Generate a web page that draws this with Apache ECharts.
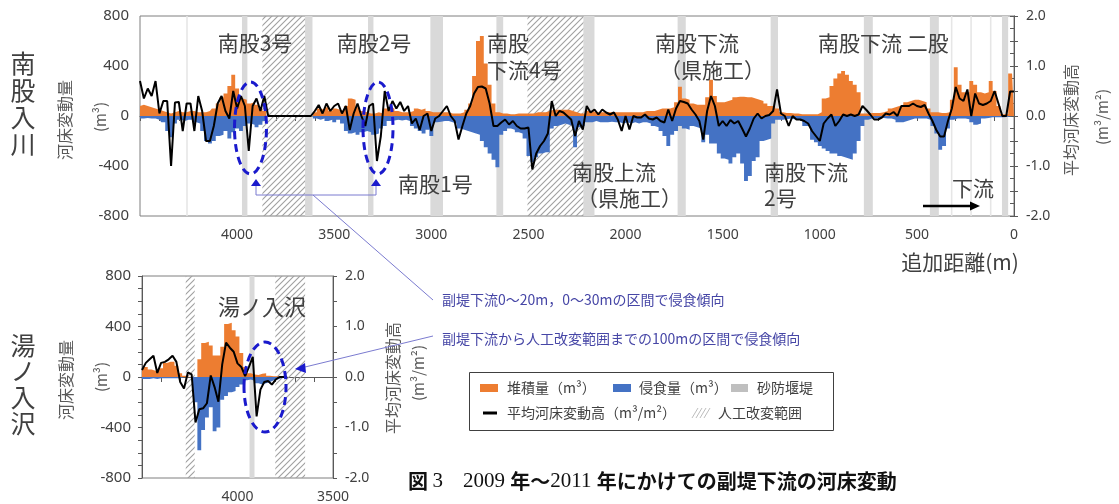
<!DOCTYPE html>
<html><head><meta charset="utf-8">
<script src="https://cdn.jsdelivr.net/npm/echarts@6.0.0/dist/echarts.min.js"></script>
<style>html,body{margin:0;padding:0;background:#fff}#c{width:1119px;height:504px}</style>
</head><body><div id="c"></div>
<script>
// ---------------- DATA ----------------
// 南股入川: sampled every 20 m from 4500 m (left) down to 0 m (right)
const topStartM = 4500, topStepM = 20;
const topDeposit = [
 80,90,80,70,60,50,40,30,20,30,
 40,30,30,40,40,30,30,30,40,60,
 100,150,180,240,330,220,140,130,100,110,
 90,60,40,0,0,0,0,0,0,0,
 0,0,0,0,0,30,60,50,70,40,
 60,50,40,80,140,130,70,40,30,20,
 20,30,20,60,70,60,40,30,30,30,
 40,60,50,60,40,30,30,30,30,30,
 20,20,20,30,50,100,320,600,640,420,
 250,100,30,20,20,15,15,20,20,20,
 20,20,30,30,30,40,50,50,50,50,
 50,40,30,20,20,40,40,30,30,30,
 30,30,30,30,30,30,30,30,30,30,
 40,40,40,50,60,60,60,70,110,235,
 140,130,100,90,90,90,150,290,160,110,
 110,120,130,150,155,155,150,150,140,130,
 120,100,80,80,60,30,25,25,20,20,
 15,15,15,15,15,30,140,150,240,300,
 340,360,330,280,250,190,20,20,25,25,
 25,30,40,60,70,80,90,110,120,130,
 130,120,110,60,30,30,25,25,30,130,
 390,250,190,190,280,250,190,180,190,280,
 200,80,15,15,340,330];
const topErosion = [
 -20,-20,-15,-20,-20,-30,-50,-120,-170,-60,
 -30,-40,-30,-30,-50,-60,-120,-200,-220,-200,
 -160,-150,-120,-180,-130,-100,-120,-80,-60,-70,
 -90,-70,-40,0,0,0,0,0,0,0,
 0,0,0,0,0,-20,-30,-20,-40,-30,
 -50,-30,-60,-120,-140,-130,-150,-130,-120,-130,
 -150,-140,-100,-80,-40,-35,-30,-35,-30,-40,
 -80,-100,-120,-140,-110,-160,-50,-45,-40,-40,
 -50,-60,-100,-110,-120,-130,-140,-150,-200,-250,
 -300,-350,-410,-150,-120,-100,-110,-130,-140,-180,
 -320,-370,-330,-300,-290,-290,-100,-80,-70,-60,
 -70,-80,-250,-90,-80,-50,-50,-40,-50,-50,
 -50,-45,-50,-50,-60,-50,-60,-50,-60,-50,
 -50,-60,-80,-90,-120,-160,-240,-150,-120,-80,
 -100,-110,-80,-90,-100,-210,-150,-220,-220,-300,
 -340,-350,-380,-330,-300,-380,-520,-480,-360,-330,
 -200,-190,-180,-60,-30,-30,-25,-20,-25,-25,
 -40,-80,-80,-190,-210,-240,-260,-280,-300,-300,
 -320,-330,-340,-350,-300,-200,-80,-30,-20,-20,
 -15,-15,-20,-20,-30,-50,-50,-40,-30,-20,
 -20,-20,-20,-30,-80,-140,-270,-240,-100,-30,
 -20,-20,-20,-25,-50,-70,-60,-20,-15,-10,
 -10,-10,-10,-5,-5,0];
const topMean = [
 0.70,0.35,0.55,0.40,0.70,0.05,0.30,0.30,-1.00,0.27,
 0.28,-0.30,0.25,0.25,-0.30,0.40,0.10,-0.50,-0.50,-0.20,
 0.25,0.40,0.10,-0.05,0.50,0.15,0.40,0.20,-0.70,0.20,
 0.35,0.10,0.40,0,0,0,0,0,0,0,
 0,0,0,0,0,0.10,0.22,0.05,0.25,0.10,
 0.20,0.25,0.05,0.20,-0.28,0.05,0.25,0.00,-0.20,0.20,
 0.25,-0.90,-0.40,0.50,0.10,0.30,0.15,0.28,0.10,0.20,
 -0.15,-0.05,-0.28,0.00,0.05,-0.30,-0.05,0.00,0.10,0.20,
 0.00,-0.10,-0.47,-0.20,0.05,0.20,0.45,0.58,0.59,0.55,
 0.25,-0.20,-0.20,-0.13,-0.07,-0.17,-0.10,-0.20,-0.25,-0.25,
 -0.23,-1.07,-0.75,-0.60,-0.50,-0.35,0.30,0.00,0.10,0.07,
 0.00,-0.07,-0.40,-0.10,-0.27,0.20,0.07,0.13,0.03,0.13,
 0.07,0.03,0.07,-0.07,-0.30,0.00,-0.27,0.00,-0.03,-0.03,
 0.03,-0.05,-0.07,-0.03,-0.10,-0.13,0.13,-0.10,0.15,0.30,
 0.28,0.25,0.13,0.03,-0.10,-0.47,0.10,0.40,0.20,-0.20,
 -0.10,-0.20,-0.08,-0.15,-0.10,-0.25,-0.41,-0.25,-0.05,0.05,
 -0.05,0.00,0.02,0.10,0.53,0.05,0.00,-0.20,0.00,-0.07,
 -0.07,-0.10,-0.15,-0.30,-0.40,-0.50,-0.15,-0.05,0.03,-0.20,
 -0.10,0.03,0.00,0.03,0.00,0.03,0.20,0.12,0.03,-0.07,
 -0.07,-0.03,0.05,0.03,0.08,0.00,0.20,0.20,0.20,0.25,
 0.20,0.18,0.22,0.05,-0.10,-0.28,-0.41,-0.41,-0.10,0.15,
 0.58,0.35,0.30,0.53,0.00,0.45,0.25,0.22,0.25,0.30,
 0.50,0.25,0.00,0.00,0.49,0.49];

// 湯ノ入沢: every 20 m from 4500 m down to 3740 m
const botStartM = 4500, botStepM = 20;
const botDeposit = [
 50,80,60,50,50,70,110,120,120,90,
 30,10,0,0,0,140,270,280,250,170,
 170,240,420,430,370,320,190,80,30,20,
 15,25,30,10,5,5,0,0,0];
const botErosion = [
 -15,-15,-15,-10,-15,-10,-10,-10,-10,-10,
 -10,0,0,0,-200,-580,-420,-320,-240,-430,
 -400,-180,-150,-120,-110,-80,-60,-25,-20,-30,
 -50,-60,-50,-40,-25,-20,-10,0,0];
const botMean = [
 0.14,0.28,0.35,0.42,0.08,0.28,0.30,0.35,0.42,0.30,
 -0.10,-0.23,0.09,0.05,-0.90,-0.64,-0.62,-0.52,0.03,-0.20,
 -0.49,0.25,0.68,0.58,0.50,0.27,0.20,0.02,0.20,0.40,
 -0.78,-0.25,-0.10,-0.08,-0.15,-0.05,0,0,0];

// Tick labels
const topXLabels = [4000,3500,3000,2500,2000,1500,1000,500,0];
const botXLabels = [4000,3500];
const leftLabels = [-800,-400,0,400,800];
const rightLabels = [-2,-1,0,1,2];

// 砂防堰堤 (dams) and 人工改変範囲 (artificial alteration) ranges, in m
const damsTop = [[3975,3947],[3650,3612],[3326,3298],[3005,2940],[2665,2630],[2217,2160],[1732,1690],[1253,1215],[773,727],[433,387],[62,30]];
const thinDamsTop = [[4262,4254],[325,317],[225,217],[124,116]];
const worksTop = [[3870,3650],[2505,2217]];
const damsBot = [[3937,3911]];
const worksBot = [[4271,4224],[3802,3646]];

// ---------------- CHART ----------------
const ORANGE = '#ED7D31', BLUE = '#4472C4', GRAY = '#d9d9d9';
const AX = '#595959', TXT = '#404040';
const JP = '"Noto Sans CJK JP", sans-serif';
const NUM = '"Noto Sans", sans-serif';

function pairs(start, step, arr){ return arr.map((v,i)=>[start - step*i, v]); }
function hatchCanvas(){
  const c = document.createElement('canvas'); c.width = 6; c.height = 6;
  const g = c.getContext('2d'); g.strokeStyle = '#a0a0a0'; g.lineWidth = 1.1;
  g.beginPath(); g.moveTo(0,6); g.lineTo(6,0); g.moveTo(-1,1); g.lineTo(1,-1); g.moveTo(5,7); g.lineTo(7,5); g.stroke();
  return c;
}
const HATCH = {image: hatchCanvas(), repeat: 'repeat'};

function bands(dams, thin, works){
  const out = [];
  dams.forEach(b=>out.push([{xAxis:b[0], itemStyle:{color:GRAY, opacity:1}},{xAxis:b[1]}]));
  thin.forEach(b=>out.push([{xAxis:b[0], itemStyle:{color:'#e6e6e6', opacity:1}},{xAxis:b[1]}]));
  works.forEach(b=>out.push([{xAxis:b[0], itemStyle:{color:HATCH, opacity:1}},{xAxis:b[1]}]));
  return out;
}
function areaS(xi, yi, data, color, mark){
  const s = {type:'line', xAxisIndex:xi, yAxisIndex:yi, data, step:'middle', symbol:'none', silent:true,
    lineStyle:{width:0}, areaStyle:{color, opacity:1}, z:3};
  if (mark) s.markArea = {silent:true, itemStyle:{opacity:1}, data: mark};
  return s;
}
function lineS(xi, yi, data){
  return {type:'line', xAxisIndex:xi, yAxisIndex:yi, data, symbol:'none', silent:true,
    lineStyle:{color:'#000', width:2}, z:4};
}
function xAxisDef(gi, min, max, labels){
  return {gridIndex:gi, type:'value', inverse:true, min, max, interval:100,
    axisLine:{show:true, lineStyle:{color:AX}}, axisTick:{show:true, length:5, lineStyle:{color:AX}},
    axisLabel:{margin:12, fontSize:14, color:TXT, fontFamily:NUM, formatter:v=>labels.includes(v)?String(v):''},
    splitLine:{show:false}};
}
function yLeft(gi){
  return {gridIndex:gi, type:'value', position:'left', min:-800, max:800, interval:100,
    axisLine:{show:true, lineStyle:{color:AX}}, axisTick:{show:true, length:4, lineStyle:{color:AX}},
    axisLabel:{margin:11, fontSize:15, color:TXT, fontFamily:NUM, formatter:v=>leftLabels.includes(v)?String(v):''},
    splitLine:{show:false}};
}
function yRight(gi){
  return {gridIndex:gi, type:'value', position:'right', min:-2, max:2, interval:0.5,
    axisLine:{show:true, lineStyle:{color:AX}}, axisTick:{show:true, length:4, lineStyle:{color:AX}},
    axisLabel:{margin:12, fontSize:14, color:TXT, fontFamily:NUM,
      formatter:v=>{const r=Math.round(v); return (Math.abs(v-r)<1e-6 && rightLabels.includes(r))? r.toFixed(1):'';}},
    splitLine:{show:false}};
}

// graphic helpers
function txt(x,y,t,size,opts){ opts=opts||{};
  return {type:'text', x, y, z:100, rotation:opts.rot||0,
    style:{text:t, fontSize:size, fontFamily:opts.ff||JP, fontWeight:opts.fw||'normal', fill:opts.fill||TXT,
      textAlign:opts.align||'center', align:opts.align||'center', textVerticalAlign:'middle', verticalAlign:'middle'}};
}
const VROT = Math.PI/2;
const EBLUE = '#1a1acc', LBLUE = '#7b7bd0', ATXT = '#4646a6';
function ell(cx,cy,rx,ry){ return {type:'ellipse', z:100, shape:{cx,cy,rx,ry}, style:{fill:null, stroke:EBLUE, lineWidth:3, lineDash:[8,5]}}; }
function poly(points, fill){ return {type:'polygon', z:100, shape:{points}, style:{fill}}; }
function pline(points, stroke, w){ return {type:'polyline', z:100, shape:{points}, style:{stroke, lineWidth:w, fill:null}}; }

const graphics = [
  // left titles
  ...['南','股','入','川'].map((c,i)=>txt(23, 63+i*27, c, 25)),
  ...['湯','ノ','入','沢'].map((c,i)=>txt(23, 345+i*26, c, 25)),
  // axis names
  txt(65,120,'河床変動量',16,{rot:VROT, fill:'#595959'}),
  txt(100,117,'(m³)',15,{rot:VROT, fill:'#595959'}),
  txt(1071,120,'平均河床変動高',16,{rot:VROT, fill:'#595959'}),
  txt(1102,117,'(m³/m²)',15,{rot:VROT, fill:'#595959'}),
  txt(66,380,'河床変動量',16,{rot:VROT, fill:'#595959'}),
  txt(101,377,'(m³)',15,{rot:VROT, fill:'#595959'}),
  txt(393,378,'平均河床変動高',16,{rot:VROT, fill:'#595959'}),
  txt(418,373,'(m³/m²)',15,{rot:VROT, fill:'#595959'}),
  txt(960,262,'追加距離(m)',21),
  // site labels
  txt(255,43,'南股3号',21),
  txt(374,43,'南股2号',21),
  txt(487,43,'南股',21,{align:'left'}),
  txt(487,70,'下流4号',21,{align:'left'}),
  txt(655,43,'南股下流',21,{align:'left'}),
  txt(660,70,'（県施工）',21,{align:'left'}),
  txt(818,43,'南股下流 二股',21,{align:'left'}),
  txt(398,184,'南股1号',21,{align:'left'}),
  txt(572,172,'南股上流',21,{align:'left'}),
  txt(577,198,'（県施工）',21,{align:'left'}),
  txt(764,172,'南股下流',21,{align:'left'}),
  txt(764,198,'2号',21,{align:'left'}),
  txt(952,188,'下流',21,{align:'left'}),
  txt(218,307,'湯ノ入沢',22,{align:'left'}),
  // 下流 arrow
  pline([[923,206],[972,206]],'#000',2.5),
  poly([[980,206],[970,201.5],[970,210.5]],'#000'),
  // ellipses
  ell(250.5,128,16,46), ell(378,128,15,46), ell(265,387,21,45),
  // triangles under ellipses
  poly([[256,179],[251,186],[261,186]],EBLUE),
  poly([[376,179],[371,186],[381,186]],EBLUE),
  // bracket and leader lines
  pline([[256,186],[256,195],[376,195],[376,186]],LBLUE,1),
  pline([[313,195],[433,300]],LBLUE,1),
  pline([[433,336],[305,367]],LBLUE,1),
  poly([[295,369],[305,363],[306,373]],EBLUE),
  // annotation texts
  txt(442,300,'副堤下流0～20m，0～30mの区間で侵食傾向',14,{align:'left', fill:ATXT}),
  txt(442,339,'副堤下流から人工改変範囲までの100mの区間で侵食傾向',14,{align:'left', fill:ATXT}),
  // legend
  {type:'rect', z:100, shape:{x:469.5,y:372.5,width:364,height:58}, style:{fill:'#fff', stroke:'#404040', lineWidth:1}},
  {type:'rect', z:101, shape:{x:480,y:384,width:18,height:8}, style:{fill:ORANGE}},
  txt(507,388,'堆積量（m³）',14,{align:'left'}),
  {type:'rect', z:101, shape:{x:613,y:384,width:18,height:8}, style:{fill:BLUE}},
  txt(639,388,'侵食量（m³）',14,{align:'left'}),
  {type:'rect', z:101, shape:{x:731,y:384,width:17,height:8}, style:{fill:'#bfbfbf'}},
  txt(757,388,'砂防堰堤',14,{align:'left'}),
  {type:'line', z:101, shape:{x1:483,y1:413,x2:497,y2:413}, style:{stroke:'#000', lineWidth:3}},
  txt(507,413,'平均河床変動高（m³/m²）',14,{align:'left'}),
  ...[0,4,8,12].map(d=>({type:'line', z:101, shape:{x1:692+d,y1:418,x2:698+d,y2:408}, style:{stroke:'#bdbdbd', lineWidth:1}})),
  txt(718,413,'人工改変範囲',14,{align:'left'}),
  // caption
  {type:'text', x:408, y:481, z:100, style:{
    text:'{b|図 }{a|3}{b|　}{a|2009 }{b|年～}{a|2011 }{b|年にかけての副堤下流の河床変動}',
    textAlign:'left', align:'left', textVerticalAlign:'middle', verticalAlign:'middle',
    rich:{a:{fontFamily:'"Liberation Serif", serif', fontSize:21, fill:'#111', color:'#111'},
          b:{fontFamily:JP, fontWeight:'bold', fontSize:20, fill:'#111', color:'#111'}}}}
];

const chart = echarts.init(document.getElementById('c'), null, {renderer:'canvas'});
chart.setOption({
  animation:false,
  backgroundColor:'#fff',
  grid:[
    {left:140, top:16, width:874, height:200, show:true, borderColor:'#7f7f7f', borderWidth:1, backgroundColor:'transparent'},
    {left:142, top:276, width:191, height:202, show:true, borderColor:'#7f7f7f', borderWidth:1, backgroundColor:'transparent'}
  ],
  xAxis:[ xAxisDef(0,0,4500,topXLabels), xAxisDef(1,3500,4500,botXLabels) ],
  yAxis:[ yLeft(0), yRight(0), yLeft(1), yRight(1) ],
  series:[
    areaS(0,0,pairs(topStartM,topStepM,topDeposit),ORANGE,bands(damsTop,thinDamsTop,worksTop)),
    areaS(0,0,pairs(topStartM,topStepM,topErosion),BLUE),
    lineS(0,1,pairs(topStartM,topStepM,topMean)),
    areaS(1,2,pairs(botStartM,botStepM,botDeposit),ORANGE,bands(damsBot,[],worksBot)),
    areaS(1,2,pairs(botStartM,botStepM,botErosion),BLUE),
    lineS(1,3,pairs(botStartM,botStepM,botMean))
  ],
  graphic: graphics
});
</script></body></html>
